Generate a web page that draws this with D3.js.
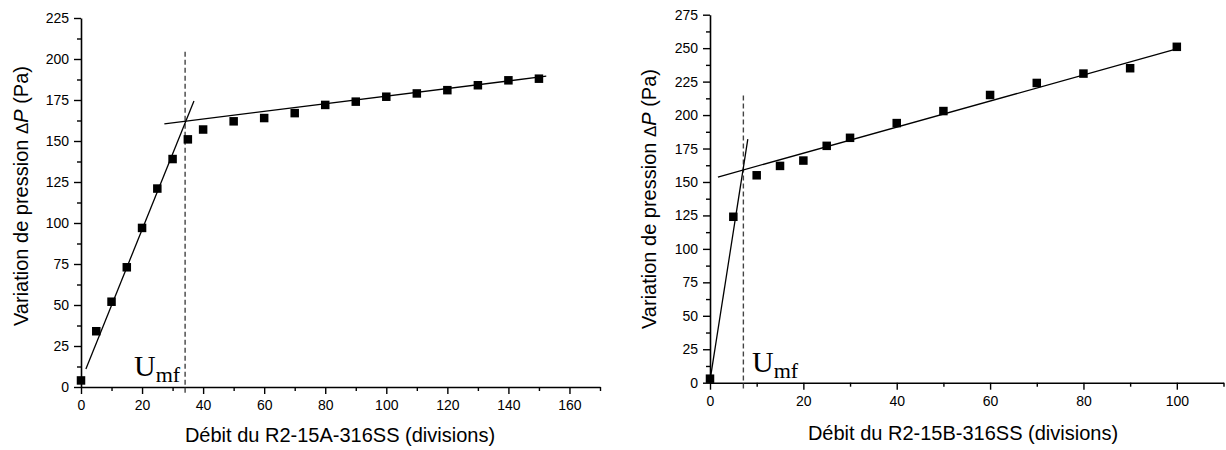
<!DOCTYPE html>
<html><head><meta charset="utf-8">
<script src="https://cdn.jsdelivr.net/npm/d3@7"></script>
<style>
html,body{margin:0;padding:0;background:#fff;}
svg{display:block;}
text{fill:#000;}
</style></head>
<body>
<svg id="chart" width="1226" height="450"></svg>
<script>
// ---------- Data: chart A (left) ----------
const flowA = [0,5,10,15,20,25,30,35,40,50,60,70,80,90,100,110,120,130,140,150];
const dpA   = [4,34,52,73,97,121,139,151,157,162,164,167,172,174,177,179,181,184,187,188];
const fixedBedFitA   = [[1.6,11],[37,174.4]];
const fluidBedFitA   = [[27.3,160.5],[152.4,189.5]];
const umfA = 34.1, umfTopA = 204.4;
const xTicksA = [0,20,40,60,80,100,120,140,160];
const yTicksA = [0,25,50,75,100,125,150,175,200,225];
const xMaxA = 170, yMaxA = 225;
const xTitleA = "Débit du R2-15A-316SS (divisions)";

// ---------- Data: chart B (right) ----------
const flowB = [0,5,10,15,20,25,30,40,50,60,70,80,90,100];
const dpB   = [3,124,155,162,166,177,183,194,203,215,224,231,235,251];
const fixedBedFitB   = [[0,1.5],[8.1,182]];
const fluidBedFitB   = [[1.7,153.7],[99.6,249]];
const umfB = 7.15, umfTopB = 214.7;
const xTicksB = [0,20,40,60,80,100];
const yTicksB = [0,25,50,75,100,125,150,175,200,225,250,275];
const xMaxB = 110, yMaxB = 275;
const xTitleB = "Débit du R2-15B-316SS (divisions)";

const SANS = "Arial, 'Liberation Sans', sans-serif";
const SERIF = "'Liberation Serif', 'Times New Roman', serif";
const svg = d3.select("#chart");

function drawPanel(cfg){
  const g = svg.append("g");
  const x = d3.scaleLinear().domain([0,cfg.xMax]).range([cfg.x0,cfg.x1]);
  const y = d3.scaleLinear().domain([0,cfg.yMax]).range([cfg.y0,cfg.y1]);

  // minor ticks
  const xMinor = d3.range(10, cfg.xMax+0.001, 20);
  const yMinor = d3.range(12.5, cfg.yMax, 25);
  g.append("g").attr("transform",`translate(0,${cfg.y0})`)
    .call(d3.axisBottom(x).tickValues(xMinor).tickSize(4).tickFormat(""))
    .call(a=>a.select(".domain").remove())
    .selectAll("line").attr("stroke","#000").attr("stroke-width",1.4);
  g.append("g").attr("transform",`translate(${cfg.x0},0)`)
    .call(d3.axisLeft(y).tickValues(yMinor).tickSize(4).tickFormat(""))
    .call(a=>a.select(".domain").remove())
    .selectAll("line").attr("stroke","#000").attr("stroke-width",1.4);

  // major axes
  const xa = g.append("g").attr("transform",`translate(0,${cfg.y0})`)
    .call(d3.axisBottom(x).tickValues(cfg.xTicks).tickSize(7).tickSizeOuter(0).tickPadding(6));
  const ya = g.append("g").attr("transform",`translate(${cfg.x0},0)`)
    .call(d3.axisLeft(y).tickValues(cfg.yTicks).tickSize(7).tickSizeOuter(0).tickPadding(5));
  [xa,ya].forEach(a=>{
    a.select(".domain").attr("stroke","#000").attr("stroke-width",1.6);
    a.selectAll(".tick line").attr("stroke","#000").attr("stroke-width",1.4);
    a.selectAll(".tick text").style("font-size","14px").style("font-family",SANS).attr("fill","#000");
  });

  // dashed Umf line
  g.append("line")
    .attr("x1",x(cfg.umf)).attr("x2",x(cfg.umf))
    .attr("y1",y(cfg.umfTop)).attr("y2",cfg.y0+6)
    .attr("stroke","#444").attr("stroke-width",1.4).attr("stroke-dasharray","5,3");

  // fit lines
  const line = d3.line().x(d=>x(d[0])).y(d=>y(d[1]));
  [cfg.fit1,cfg.fit2].forEach(f=>{
    g.append("path").attr("d",line(f)).attr("fill","none").attr("stroke","#000").attr("stroke-width",1.3);
  });

  // markers
  const s = 8.5;
  g.selectAll("rect.pt").data(cfg.xs.map((v,i)=>[v,cfg.ys[i]])).enter()
    .append("rect").attr("class","pt")
    .attr("x",d=>x(d[0])-s/2).attr("y",d=>y(d[1])-s/2)
    .attr("width",s).attr("height",s).attr("fill","#000");

  // Umf label
  const u = g.append("text").attr("x",cfg.umfLabelX).attr("y",cfg.y0-11)
    .style("font-family",SERIF);
  u.append("tspan").style("font-size","30px").text("U");
  u.append("tspan").style("font-size","22px").attr("dy",6).text("mf");

  // x title
  g.append("text").attr("x",cfg.xTitleX).attr("y",cfg.xTitleY)
    .attr("text-anchor","middle").style("font-size","20px").style("font-family",SANS).text(cfg.xTitle);

  // y title
  const yt = g.append("text")
    .attr("transform",`translate(${cfg.yTitleX},${cfg.yTitleY}) rotate(-90)`)
    .attr("text-anchor","middle").style("font-size","20px").style("font-family",SANS);
  yt.append("tspan").text("Variation de pression ");
  yt.append("tspan").style("font-size","17px").text("Δ");
  yt.append("tspan").style("font-style","italic").text("P");
  yt.append("tspan").text(" (Pa)");
}

drawPanel({
  xs:flowA, ys:dpA, fit1:fixedBedFitA, fit2:fluidBedFitA, umf:umfA, umfTop:umfTopA,
  xTicks:xTicksA, yTicks:yTicksA, xMax:xMaxA, yMax:yMaxA, xTitle:xTitleA,
  x0:81, x1:600, y0:387, y1:18,
  umfLabelX:134, xTitleX:340, xTitleY:442, yTitleX:28, yTitleY:196
});
drawPanel({
  xs:flowB, ys:dpB, fit1:fixedBedFitB, fit2:fluidBedFitB, umf:umfB, umfTop:umfTopB,
  xTicks:xTicksB, yTicks:yTicksB, xMax:xMaxB, yMax:yMaxB, xTitle:xTitleB,
  x0:710, x1:1223.5, y0:382.7, y1:14.7,
  umfLabelX:752, xTitleX:963, xTitleY:440, yTitleX:656, yTitleY:199
});
</script>
</body></html>
